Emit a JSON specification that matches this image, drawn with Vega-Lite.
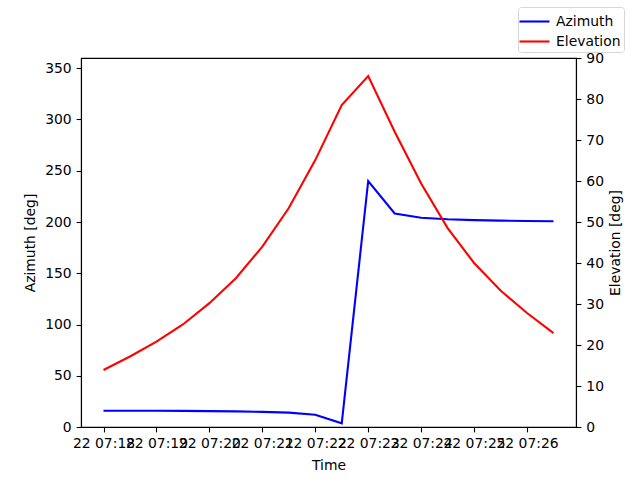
{
  "$schema": "https://vega.github.io/schema/vega-lite/v6.json",
  "width": 495,
  "height": 369,
  "autosize": {"type": "none"},
  "padding": {"left": 81, "top": 58, "right": 64, "bottom": 53},
  "background": "white",
  "data": {
    "values": [
      {"Time": "2024-01-22T07:18:00", "Azimuth": 15.9, "Elevation": 13.9},
      {"Time": "2024-01-22T07:18:30", "Azimuth": 15.9, "Elevation": 17.2},
      {"Time": "2024-01-22T07:19:00", "Azimuth": 15.8, "Elevation": 20.8},
      {"Time": "2024-01-22T07:19:30", "Azimuth": 15.7, "Elevation": 25.0},
      {"Time": "2024-01-22T07:20:00", "Azimuth": 15.5, "Elevation": 30.2},
      {"Time": "2024-01-22T07:20:30", "Azimuth": 15.2, "Elevation": 36.3},
      {"Time": "2024-01-22T07:21:00", "Azimuth": 14.8, "Elevation": 44.0},
      {"Time": "2024-01-22T07:21:30", "Azimuth": 14.0, "Elevation": 53.4},
      {"Time": "2024-01-22T07:22:00", "Azimuth": 12.0, "Elevation": 65.1},
      {"Time": "2024-01-22T07:22:30", "Azimuth": 3.6, "Elevation": 78.5},
      {"Time": "2024-01-22T07:23:00", "Azimuth": 240.0, "Elevation": 85.6},
      {"Time": "2024-01-22T07:23:30", "Azimuth": 208.3, "Elevation": 72.0},
      {"Time": "2024-01-22T07:24:00", "Azimuth": 204.2, "Elevation": 59.4},
      {"Time": "2024-01-22T07:24:30", "Azimuth": 202.7, "Elevation": 48.5},
      {"Time": "2024-01-22T07:25:00", "Azimuth": 201.8, "Elevation": 40.0},
      {"Time": "2024-01-22T07:25:30", "Azimuth": 201.3, "Elevation": 33.3},
      {"Time": "2024-01-22T07:26:00", "Azimuth": 201.0, "Elevation": 27.8},
      {"Time": "2024-01-22T07:26:30", "Azimuth": 200.8, "Elevation": 22.9}
    ]
  },
  "layer": [
    {
      "mark": {"type": "line", "strokeWidth": 2.1},
      "encoding": {
        "x": {
          "field": "Time",
          "type": "temporal",
          "title": "Time",
          "scale": {
            "domain": [
              {"year": 2024, "month": 1, "date": 22, "hours": 7, "minutes": 17, "seconds": 34, "milliseconds": 500},
              {"year": 2024, "month": 1, "date": 22, "hours": 7, "minutes": 26, "seconds": 55, "milliseconds": 500}
            ]
          },
          "axis": {
            "format": "%d %H:%M",
            "values": [
              {"year": 2024, "month": 1, "date": 22, "hours": 7, "minutes": 18},
              {"year": 2024, "month": 1, "date": 22, "hours": 7, "minutes": 19},
              {"year": 2024, "month": 1, "date": 22, "hours": 7, "minutes": 20},
              {"year": 2024, "month": 1, "date": 22, "hours": 7, "minutes": 21},
              {"year": 2024, "month": 1, "date": 22, "hours": 7, "minutes": 22},
              {"year": 2024, "month": 1, "date": 22, "hours": 7, "minutes": 23},
              {"year": 2024, "month": 1, "date": 22, "hours": 7, "minutes": 24},
              {"year": 2024, "month": 1, "date": 22, "hours": 7, "minutes": 25},
              {"year": 2024, "month": 1, "date": 22, "hours": 7, "minutes": 26}
            ],
            "labelOverlap": false,
            "labelFlush": false,
            "titlePadding": 8
          }
        },
        "y": {
          "field": "Azimuth",
          "type": "quantitative",
          "title": "Azimuth [deg]",
          "scale": {"domain": [0, 360], "nice": false},
          "axis": {"orient": "left", "values": [0, 50, 100, 150, 200, 250, 300, 350], "titlePadding": 7}
        },
        "color": {
          "datum": "Azimuth",
          "type": "nominal",
          "scale": {"domain": ["Azimuth", "Elevation"], "range": ["#0000ff", "#ff0000"]},
          "legend": {
            "title": null,
            "orient": "none",
            "legendX": 437,
            "legendY": -51,
            "symbolType": "M-1.5,0H1.5",
            "symbolSize": 400,
            "symbolStrokeWidth": 2.1,
            "symbolOffset": 2,
            "labelFontSize": 13.9,
            "labelFont": "DejaVu Sans",
            "labelColor": "black",
            "labelOffset": 10,
            "rowPadding": 1,
            "padding": 3,
            "strokeColor": "#d6d6d6",
            "fillColor": "white",
            "cornerRadius": 3
          }
        }
      }
    },
    {
      "mark": {"type": "line", "strokeWidth": 2.1},
      "encoding": {
        "x": {"field": "Time", "type": "temporal"},
        "y": {
          "field": "Elevation",
          "type": "quantitative",
          "title": "Elevation [deg]",
          "scale": {"domain": [0, 90], "nice": false},
          "axis": {
            "orient": "right",
            "values": [0, 10, 20, 30, 40, 50, 60, 70, 80, 90],
            "titleAngle": 270,
            "titleX": 39,
            "titleY": 184.5,
            "titleAlign": "center",
            "titleBaseline": "middle"
          }
        },
        "color": {"datum": "Elevation", "type": "nominal"}
      }
    }
  ],
  "resolve": {"scale": {"y": "independent"}, "axis": {"y": "independent"}},
  "config": {
    "view": {"stroke": "black", "strokeWidth": 1.1},
    "axis": {
      "grid": false,
      "domainColor": "black",
      "domainWidth": 1.1,
      "tickColor": "black",
      "tickWidth": 1.1,
      "tickSize": 4.9,
      "labelPadding": 4.9,
      "labelFont": "DejaVu Sans",
      "labelFontSize": 13.9,
      "labelColor": "black",
      "titleFont": "DejaVu Sans",
      "titleFontSize": 13.9,
      "titleFontWeight": "normal",
      "titleColor": "black"
    }
  }
}
